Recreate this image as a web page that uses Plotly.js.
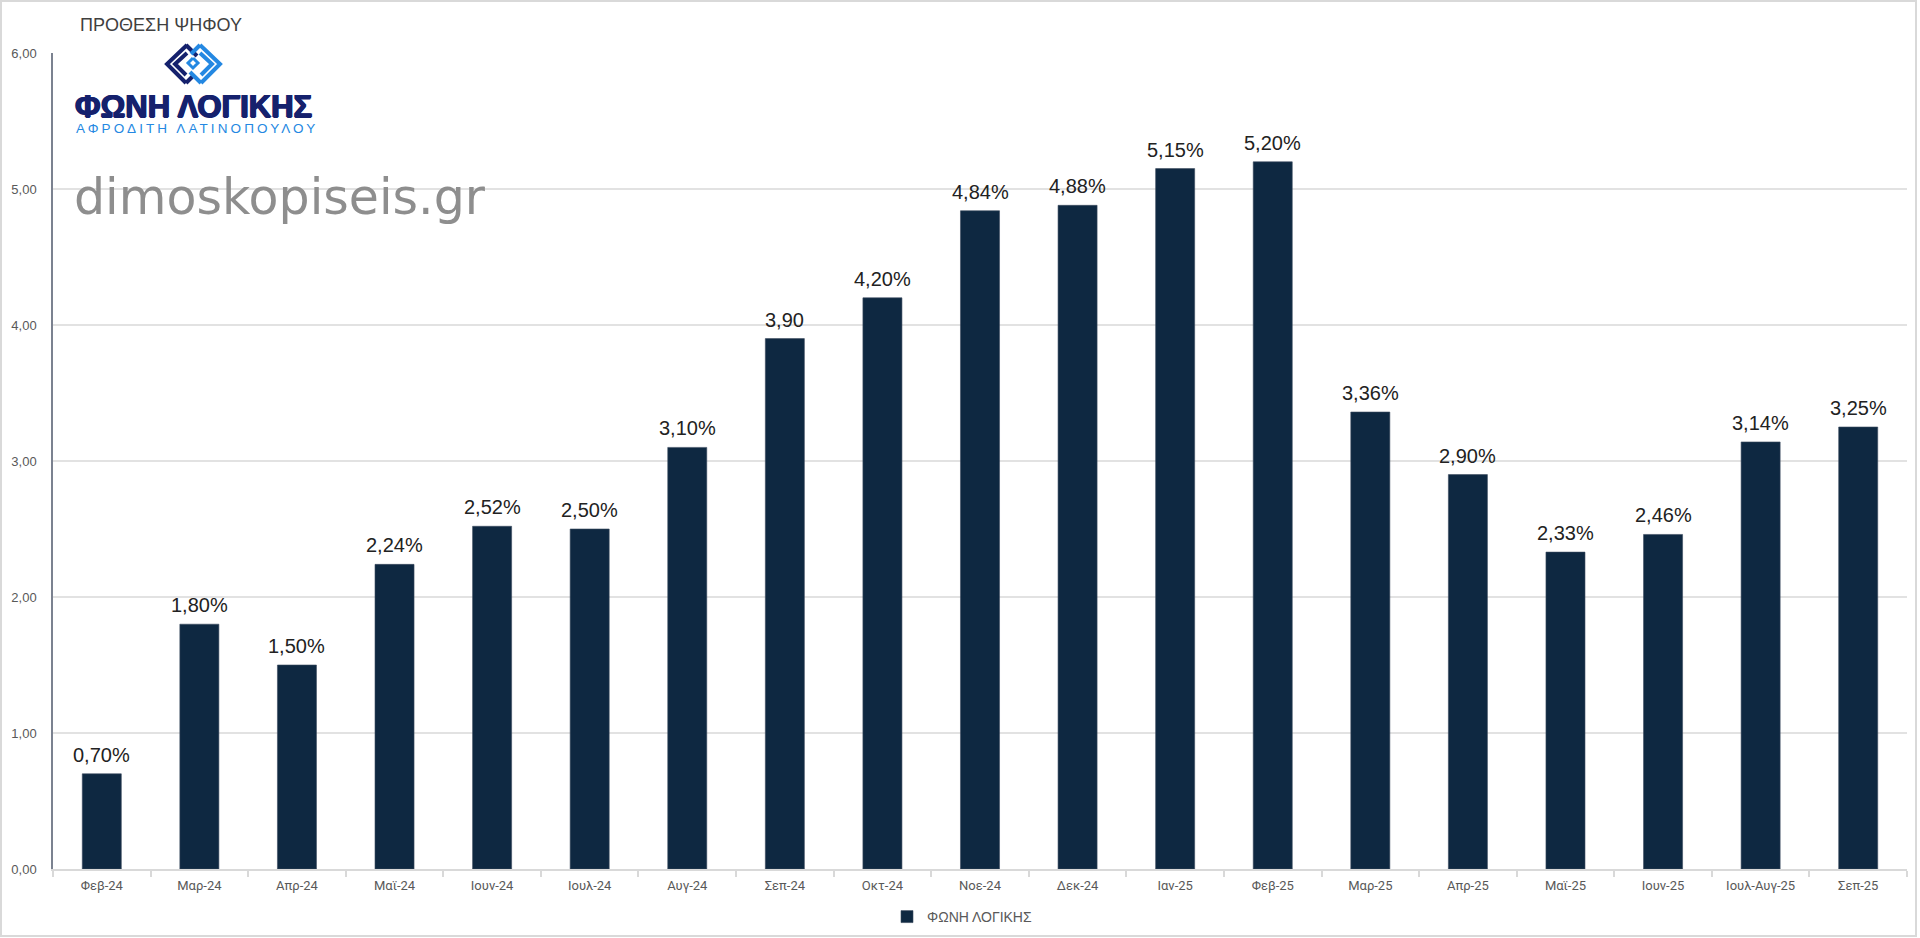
<!DOCTYPE html>
<html>
<head>
<meta charset="utf-8">
<script src="https://cdn.plot.ly/plotly-3.0.1.min.js"></script>
<style>
html,body{margin:0;padding:0;background:#fff;}
#chart{width:1920px;height:938px;}
</style>
</head>
<body>
<div id="chart"></div>
<script>
const categories = ["Φεβ-24","Μαρ-24","Απρ-24","Μαϊ-24","Ιουν-24","Ιουλ-24","Αυγ-24","Σεπ-24","Οκτ-24","Νοε-24","Δεκ-24","Ιαν-25","Φεβ-25","Μαρ-25","Απρ-25","Μαϊ-25","Ιουν-25","Ιουλ-Αυγ-25","Σεπ-25"];
const values = [0.70,1.80,1.50,2.24,2.52,2.50,3.10,3.90,4.20,4.84,4.88,5.15,5.20,3.36,2.90,2.33,2.46,3.14,3.25];
const valueLabels = ["0,70%","1,80%","1,50%","2,24%","2,52%","2,50%","3,10%","3,90","4,20%","4,84%","4,88%","5,15%","5,20%","3,36%","2,90%","2,33%","2,46%","3,14%","3,25%"];
const yTicks = [0,1,2,3,4,5,6];
const seriesName = "ΦΩΝΗ ΛΟΓΙΚΗΣ";
const chartTitle = "ΠΡΟΘΕΣΗ ΨΗΦΟΥ";
const logoName = "ΦΩΝΗ ΛΟΓΙΚΗΣ";
const logoSub = "ΑΦΡΟΔΙΤΗ ΛΑΤΙΝΟΠΟΥΛΟΥ";
const watermark = "dimoskopiseis.gr";

const L=53, R=1907, T=53, B=869;
const W=R-L, H=B-T;
const px = x => (x-L)/W;
const py = y => (B-y)/H;
function path(pts){ return pts.map((p,i)=>(i?'L':'M')+px(p[0]).toFixed(5)+','+py(p[1]).toFixed(5)).join(' '); }

const navy = "#15216d", blue = "#2488e2";

const shapes = [
  {type:'rect', xref:'paper', yref:'paper', x0:px(1), y0:py(936), x1:px(1916), y1:py(1), line:{color:'#d9d9d9', width:2}, layer:'below'},
  // logo icon
  {type:'path', xref:'paper', yref:'paper', path:path([[187,45],[167,64],[186,83]]), line:{color:navy,width:4}},
  {type:'path', xref:'paper', yref:'paper', path:path([[187,53],[175,64],[186,75]]), line:{color:navy,width:4}},
  {type:'path', xref:'paper', yref:'paper', path:path([[186,45],[197,56]]), line:{color:navy,width:4}},
  {type:'path', xref:'paper', yref:'paper', path:path([[186,83],[193,76]]), line:{color:navy,width:4}},
  {type:'path', xref:'paper', yref:'paper', path:path([[200,45],[220,64],[201,83]]), line:{color:blue,width:4}},
  {type:'path', xref:'paper', yref:'paper', path:path([[200,53],[212,64],[201,75]]), line:{color:blue,width:4}},
  {type:'path', xref:'paper', yref:'paper', path:path([[200,45],[191,54]]), line:{color:blue,width:4}},
  {type:'path', xref:'paper', yref:'paper', path:path([[201,83],[190,72]]), line:{color:blue,width:4}},
  {type:'path', xref:'paper', yref:'paper', path:path([[193,58],[198,63],[193,68],[188,63],[193,58]]), line:{color:blue,width:3}}
];

const annotations = values.map((v,i)=>({
  x: categories[i], y: v, xref:'x', yref:'y', text: valueLabels[i], showarrow:false,
  yanchor:'bottom', yshift:6, font:{family:'Liberation Sans, Arial, sans-serif', size:20, color:'#222'}
}));
annotations.push(
  {xref:'paper', yref:'paper', x:px(73), y:py(107), xanchor:'left', yanchor:'middle', showarrow:false,
   text:'<b>'+logoName+'</b>', font:{family:'Liberation Sans, Arial, sans-serif', size:31, color:navy, weight:900,
   shadow:'0.8px 0 0 '+navy+', -0.8px 0 0 '+navy+', 0 0.6px 0 '+navy}},
  {xref:'paper', yref:'paper', x:px(74), y:py(128), xanchor:'left', yanchor:'middle', showarrow:false,
   text:'<span style="letter-spacing:3.1px">'+logoSub+'</span>', font:{family:'Liberation Sans, Arial, sans-serif', size:13.5, color:blue}},
  {xref:'paper', yref:'paper', x:px(72), y:py(197), xanchor:'left', yanchor:'middle', showarrow:false,
   text:watermark, font:{family:'DejaVu Sans, sans-serif', size:49, color:'#8e8e8e', weight:400}}
);

const trace = {
  type:'bar', x:categories, y:values, name:seriesName,
  marker:{color:'#0e2841', line:{color:'#3b4a5e', width:0.6}},
  hoverinfo:'x+y'
};

const layout = {
  width:1920, height:938,
  margin:{l:L, r:1920-R, t:T, b:938-B},
  paper_bgcolor:'#fff', plot_bgcolor:'#fff',
  separators:',.',
  bargap:0.6,
  title:{text:chartTitle, xref:'container', yref:'container', x:80/1920, y:1-25/938, xanchor:'left', yanchor:'middle',
    font:{family:'Liberation Sans, Arial, sans-serif', size:18, color:'#404040'}},
  xaxis:{type:'category', showgrid:false, showline:true, linecolor:'#d9d9d9', linewidth:1.5,
    ticks:'outside', tickson:'boundaries', ticklen:6, tickcolor:'#d9d9d9', tickwidth:1.5,
    ticklabelstandoff:4, automargin:false,
    tickfont:{family:'Roboto, Liberation Sans, sans-serif', size:13, color:'#595959'}, zeroline:false},
  yaxis:{range:[0,6], tickvals:yTicks, tickformat:'.2f', showgrid:true, gridcolor:'#e2e2e2', gridwidth:1.5,
    showline:true, linecolor:'#7b8290', linewidth:1.5, zeroline:false, ticks:'', ticklabelstandoff:12, automargin:false,
    tickfont:{family:'Liberation Sans, Arial, sans-serif', size:13, color:'#595959'}},
  showlegend:true,
  legend:{orientation:'h', xref:'container', yref:'container', x:962/1920, xanchor:'center', y:1-917/938, yanchor:'middle',
    font:{family:'Liberation Sans, Arial, sans-serif', size:14, color:'#595959'}, bgcolor:'rgba(0,0,0,0)'},
  shapes:shapes,
  annotations:annotations
};

Plotly.newPlot('chart',[trace],layout,{displayModeBar:false, responsive:false});
</script>
</body>
</html>
